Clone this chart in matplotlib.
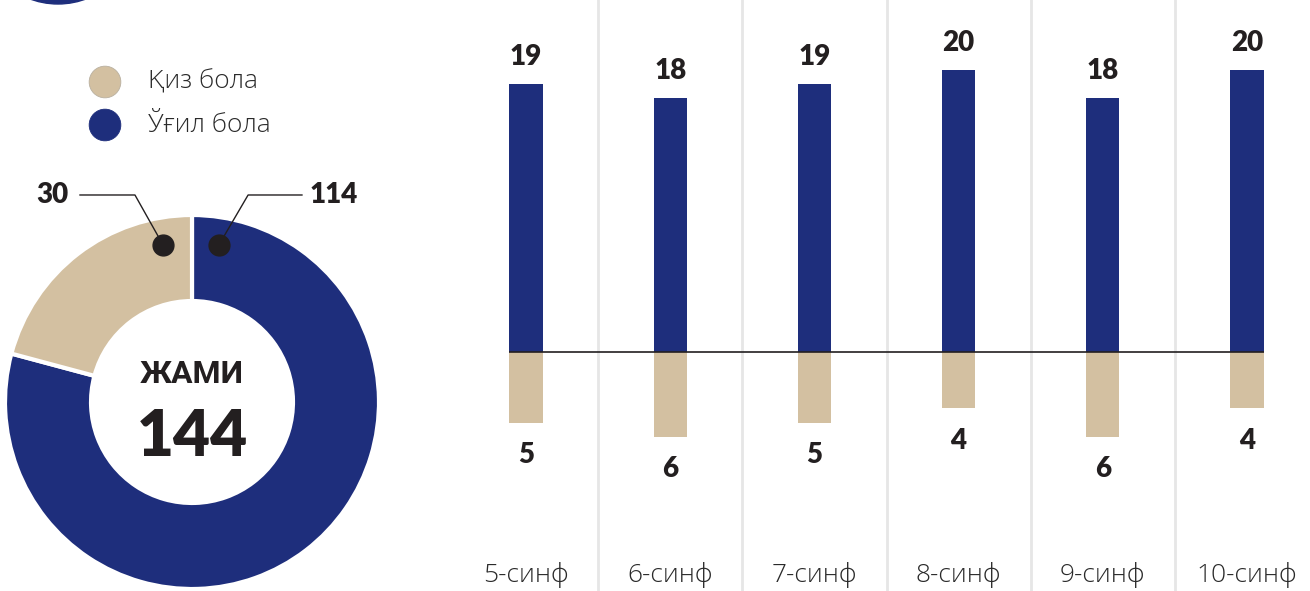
import matplotlib.pyplot as plt
from matplotlib.patches import Circle
from matplotlib.transforms import blended_transform_factory

plt.rcParams['font.family'] = ['Open Sans', 'DejaVu Sans']
BOLD = ['Lato', 'Roboto', 'DejaVu Sans']

W, H = 1310, 591
BLUE = '#1e2e7c'
TAN = '#d3c0a1'
DARK = '#231f20'

# data
classes = ['5-синф', '6-синф', '7-синф', '8-синф', '9-синф', '10-синф']
boys = [19, 18, 19, 20, 18, 20]
girls = [5, 6, 5, 4, 6, 4]
legend_labels = ['Қиз бола', 'Ўғил бола']
totals = [sum(boys), sum(girls)]
total_title = 'ЖАМИ'

fig = plt.figure(figsize=(W / 100, H / 100), dpi=100)

# background layer in pixel coords (legend + decoration)
bg = fig.add_axes([0, 0, 1, 1])
bg.set_xlim(0, W)
bg.set_ylim(H, 0)
bg.axis('off')
bg.add_patch(Circle((58, -76), 80, color=BLUE))
bg.scatter([105, 105], [82, 125], s=520, c=[TAN, BLUE],
           edgecolors=['#b9b0a0', BLUE], linewidths=0.6)
for yy, lab in zip([82, 125], legend_labels):
    bg.text(148, yy, lab, fontsize=19, color='#2a2a2a', va='center', ha='left',
            fontweight='light')

# donut
pax = fig.add_axes([5 / W, 2 / H, 374 / W, 374 / H])
pax.pie(totals, colors=[BLUE, TAN], startangle=90, counterclock=False, radius=1,
        wedgeprops=dict(width=0.46, edgecolor='white', linewidth=3))
pax.set_xlim(-1, 1)
pax.set_ylim(-1, 1)
pax.axis('off')
pax.text(0, 0.15, total_title, ha='center', va='center', fontsize=23,
         fontweight='bold', color=DARK, family=['Roboto', 'DejaVu Sans'])
pax.text(0, -0.19, str(sum(totals)), ha='center', va='center', fontsize=46,
         fontweight='heavy', color=DARK, family=BOLD)

# leader lines
pax.plot([0.144, 0.30, 0.588], [0.84, 1.107, 1.107], color=DARK, lw=1, clip_on=False)
pax.plot([0.144], [0.84], 'o', ms=15, color=DARK, clip_on=False)
pax.text(0.631, 1.107, str(totals[0]), ha='left', va='center', fontsize=20,
         fontweight='heavy', color=DARK, family=BOLD)
pax.plot([-0.155, -0.305, -0.599], [0.84, 1.107, 1.107], color=DARK, lw=1, clip_on=False)
pax.plot([-0.155], [0.84], 'o', ms=15, color=DARK, clip_on=False)
pax.text(-0.663, 1.107, str(totals[1]), ha='right', va='center', fontsize=20,
         fontweight='heavy', color=DARK, family=BOLD)

# bars
bax = fig.add_axes([455 / W, 0, 1 - 455 / W, 1])
x = list(range(len(classes)))
bw = 0.23
bax.set_xlim((455 - 526) / 144.2, (W - 526) / 144.2)
bax.set_ylim(-(H - 352) / 14.1, 352 / 14.1)
bax.axis('off')
for i in range(len(classes) - 1):
    bax.axvline(i + 0.5, color='#e6e6e6', lw=2, zorder=0)
bax.bar(x, boys, bw, color=BLUE, zorder=2)
bax.bar(x, [-g for g in girls], bw, color=TAN, zorder=2)
bax.hlines(0, -bw / 2, x[-1] + bw / 2, color=DARK, lw=1.2, zorder=3)

for i, (b, g) in enumerate(zip(boys, girls)):
    bax.annotate(str(b), (i, b), xytext=(0, 10), textcoords='offset points',
                 ha='center', va='bottom', fontsize=20, fontweight='heavy',
                 color=DARK, family=BOLD)
    bax.annotate(str(g), (i, -g), xytext=(0, -14), textcoords='offset points',
                 ha='center', va='top', fontsize=20, fontweight='heavy',
                 color=DARK, family=BOLD)

tr = blended_transform_factory(bax.transData, bax.transAxes)
for i, c in enumerate(classes):
    bax.text(i, 0.027, c, transform=tr, ha='center', va='center',
             fontsize=19, color='#2a2a2a', fontweight='light')

fig.savefig('out.png', dpi=100)
